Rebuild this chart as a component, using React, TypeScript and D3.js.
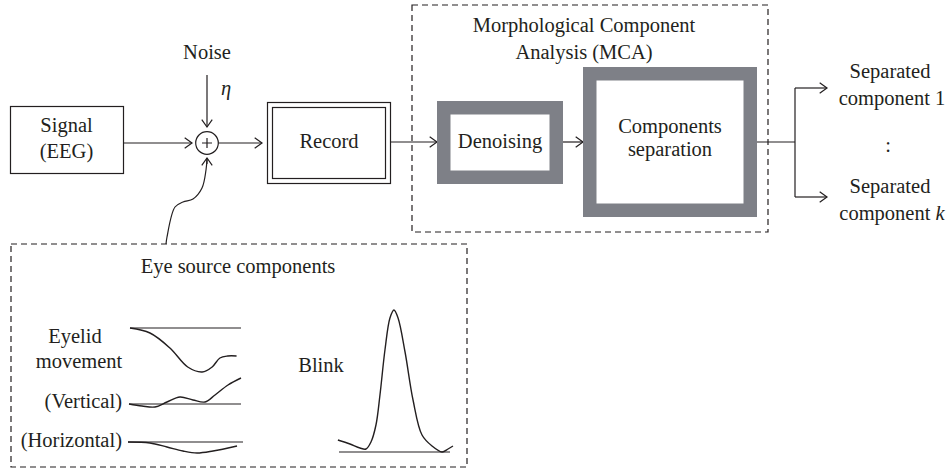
import React, { useEffect, useRef } from 'react';
import * as d3 from 'd3';

const W = 948;
const H = 470;
const INK = '#231f20';
const GRAY = '#7e8087';
const FONT = '"Liberation Serif", "Times New Roman", serif';

// Eye source waveforms: t = fraction of the drawing window, a = amplitude (a.u.)
const eyelidT = [0, 0.18, 0.36, 0.52, 0.65, 0.74, 0.81, 0.88, 0.96];
const eyelidA = [0, -5, -20, -39, -44, -39, -30, -28, -28];

const verticalT = [0, 0.116, 0.232, 0.339, 0.455, 0.571, 0.679, 0.768, 0.884, 1];
const verticalA = [0, -2, -3, 2, 7, 4, 2, 9, 19, 26];

const horizontalT = [0, 0.191, 0.339, 0.478, 0.6, 0.739, 0.948];
const horizontalA = [0, -1, -5, -9, -11, -9, -4];

const blinkT = [-0.01, 0.099, 0.189, 0.243, 0.288, 0.333, 0.369, 0.414, 0.459, 0.495, 0.532, 0.595, 0.667, 0.748, 0.838, 0.928, 0.982, 1.027];
const blinkA = [12, 8, 4, 3, 10, 27, 57, 102, 134, 142, 134, 100, 52, 17, 6, 0, 3, 6];

// Text
const signalLabel = ['Signal', '(EEG)'];
const mcaTitle = ['Morphological Component', 'Analysis (MCA)'];
const sepLabel = ['Components', 'separation'];
const eyeLabels = ['Eyelid', 'movement', '(Vertical)', '(Horizontal)'];

export default function App() {
  const svgRef = useRef<SVGSVGElement>(null);

  useEffect(() => {
    if (!svgRef.current) return;
    const svg = d3.select(svgRef.current);
    svg.selectAll('*').remove();

    const g = svg.append('g').attr('fill', 'none').attr('stroke', INK).attr('stroke-width', 1.2);

    const text = (x: number, y: number, s: string, anchor = 'middle') =>
      svg.append('text')
        .attr('x', x).attr('y', y)
        .attr('text-anchor', anchor)
        .attr('font-family', FONT)
        .attr('font-size', 20.5)
        .attr('fill', INK)
        .text(s);

    // line through points with an open chevron at the end
    const arrow = (pts: [number, number][]) => {
      g.append('path').attr('d', d3.line()(pts));
      const [x1, y1] = pts[pts.length - 2];
      const [x2, y2] = pts[pts.length - 1];
      const a = Math.atan2(y2 - y1, x2 - x1);
      const len = 9, spread = 0.62;
      const p = (s: number): [number, number] => [x2 - len * Math.cos(a + s), y2 - len * Math.sin(a + s)];
      g.append('path').attr('d', d3.line()([p(spread), [x2, y2], p(-spread)]));
    };

    const dashed = (x: number, y: number, w: number, h: number) =>
      g.append('rect').attr('x', x).attr('y', y).attr('width', w).attr('height', h)
        .attr('stroke-dasharray', '6,4');

    const thickBox = (x: number, y: number, w: number, h: number, b: number) => {
      svg.append('rect').attr('x', x).attr('y', y).attr('width', w).attr('height', h).attr('fill', GRAY);
      svg.append('rect').attr('x', x + b).attr('y', y + b).attr('width', w - 2 * b).attr('height', h - 2 * b).attr('fill', '#fff');
    };

    // Signal block
    g.append('rect').attr('x', 10.5).attr('y', 106.5).attr('width', 113).attr('height', 67);
    signalLabel.forEach((s, i) => text(66.5, 132 + i * 26, s));

    // Summation node
    const cx = 207, cy = 143, r = 11.3;
    g.append('circle').attr('cx', cx).attr('cy', cy).attr('r', r);
    g.append('path').attr('d', `M${cx - 5},${cy}H${cx + 5}M${cx},${cy - 5}V${cy + 5}`);
    arrow([[123.5, cy], [192, cy]]);
    text(cx, 59, 'Noise');
    text(221, 95, 'η').attr('font-style', 'italic').attr('text-anchor', 'start');
    arrow([[cx, 75], [cx, 127]]);
    arrow([[cx + r, cy], [262, cy]]);

    // Record (double frame)
    g.append('rect').attr('x', 267.5).attr('y', 102.5).attr('width', 123).attr('height', 81);
    g.append('rect').attr('x', 272.5).attr('y', 107.5).attr('width', 113).attr('height', 71);
    text(329, 148, 'Record');
    arrow([[391, 142], [437, 142]]);

    // MCA section
    dashed(412, 5, 356, 227);
    mcaTitle.forEach((s, i) => text(584, 32 + i * 27, s));
    thickBox(437, 101, 126, 83, 13.5);
    text(500, 148, 'Denoising');
    arrow([[563, 142], [583, 142]]);
    thickBox(583, 67, 174, 150, 13.5);
    sepLabel.forEach((s, i) => text(670, 133 + i * 23, s));

    // Output branches
    g.append('path').attr('d', d3.line()([[757, 142], [795, 142]]));
    g.append('path').attr('d', d3.line()([[795, 88], [795, 197]]));
    arrow([[795, 88], [827, 88]]);
    arrow([[795, 197], [827, 197]]);
    text(890, 78, 'Separated');
    text(892, 105, 'component 1');
    text(888, 152, ':');
    text(890, 193, 'Separated');
    const last = text(892, 220, 'component ');
    last.append('tspan').attr('font-style', 'italic').text('k');

    // Eye source components
    dashed(11, 244, 456, 223);
    text(238, 273, 'Eye source components');
    text(75, 343, eyeLabels[0]);
    text(79, 368, eyeLabels[1]);
    text(122, 408, eyeLabels[2], 'end');
    text(122, 447, eyeLabels[3], 'end');
    text(321, 372, 'Blink');

    // Path from eye sources up into the summation node
    const feed: [number, number][] = [[166, 244], [167, 237], [175, 207], [183, 202], [193, 199], [202, 188], [206, 170], [207, 158]];
    g.append('path').attr('d', d3.line().curve(d3.curveCatmullRom)(feed));
    arrow([[207, 164], [207, 158]]);

    const panels = [
      { t: eyelidT, a: eyelidA, x0: 130, x1: 241, base: 328 },
      { t: verticalT, a: verticalA, x0: 129, x1: 241, base: 404 },
      { t: horizontalT, a: horizontalA, x0: 128, x1: 243, base: 442 },
      { t: blinkT, a: blinkA, x0: 339, x1: 450, base: 452 },
    ];

    panels.forEach(p => {
      const x = d3.scaleLinear().domain([0, 1]).range([p.x0, p.x1]);
      const y = d3.scaleLinear().domain([0, 100]).range([p.base, p.base - 100]);
      g.append('line').attr('x1', x(0)).attr('x2', x(1)).attr('y1', y(0)).attr('y2', y(0));
      const line = d3.line<number>()
        .x((_, i) => x(p.t[i]))
        .y(d => y(d))
        .curve(d3.curveCatmullRom);
      g.append('path').attr('d', line(p.a)).attr('stroke-width', 1.4);
    });
  }, []);

  return (
    <svg
      ref={svgRef}
      width={W}
      height={H}
      style={{ position: 'fixed', left: 0, top: 0, background: '#fff' }}
    />
  );
}
